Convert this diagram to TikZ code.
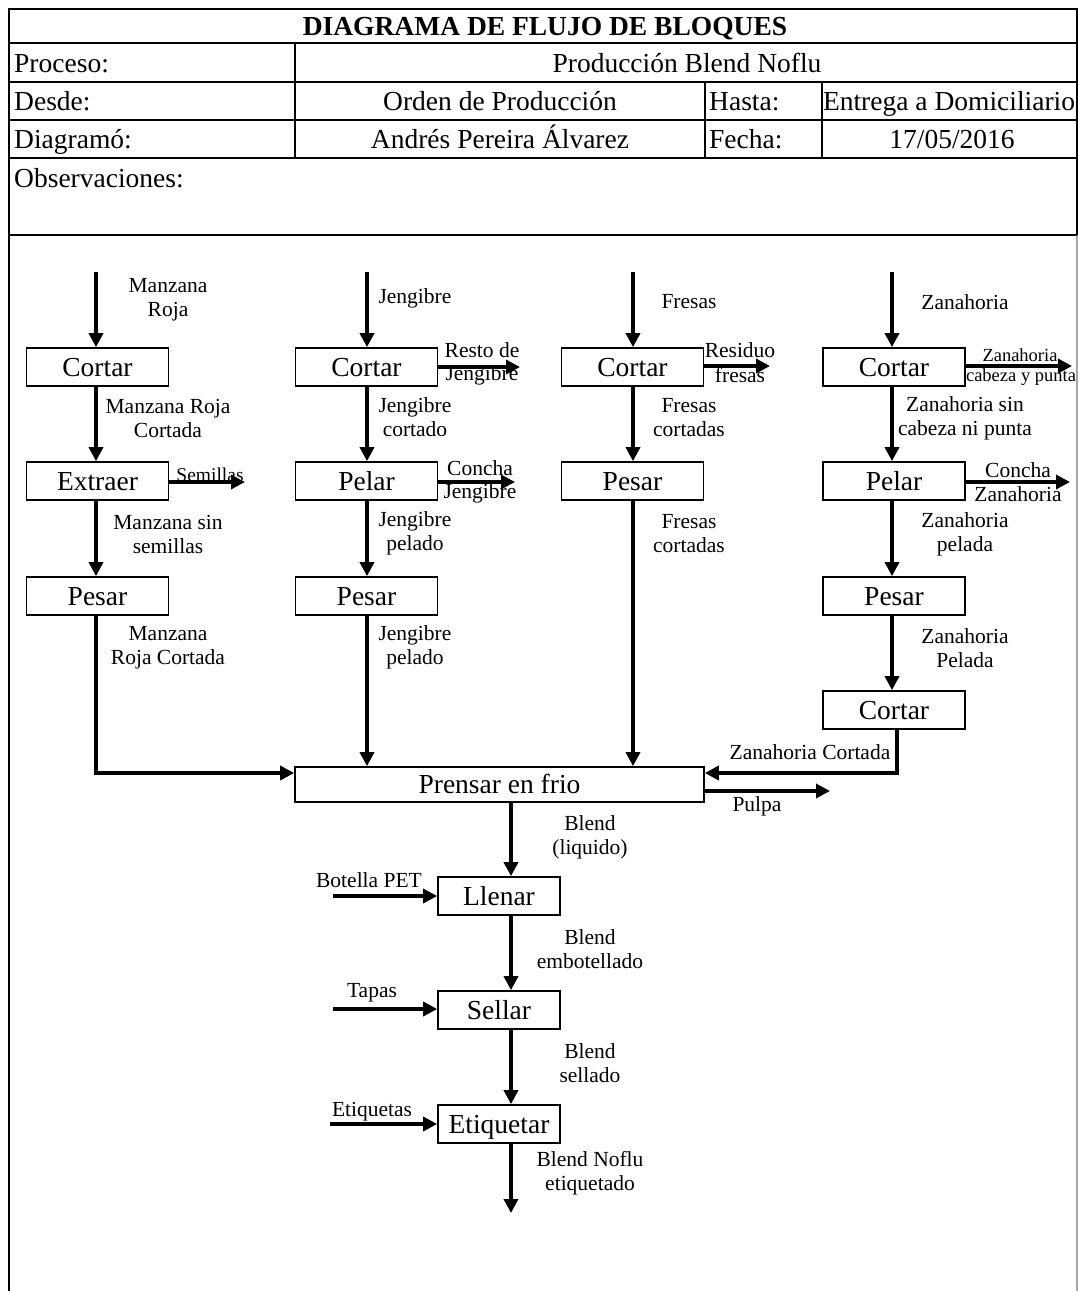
\documentclass[tikz,border=0pt]{standalone}
\usepackage{fontspec}
\setmainfont{Liberation Serif}
\usetikzlibrary{arrows.meta}
\tikzset{
  box/.style={draw, line width=1.7pt, minimum width=142pt, minimum height=38pt, inner sep=0pt, text height=24pt, text depth=6pt, font=\fontsize{27.5}{30}\selectfont},
  lbl/.style={align=center, inner sep=0pt, font=\fontsize{21.5}{24}\selectfont},
  slbl/.style={align=center, inner sep=0pt, font=\fontsize{18.5}{22}\selectfont},
  flow/.style={line width=3.4pt, -{Triangle[length=14pt,width=14pt]}},
  hdr/.style={inner sep=0pt, text height=24pt, text depth=6pt, font=\fontsize{27.5}{30}\selectfont},
  rule/.style={line width=1.7pt},
}
\begin{document}
\begin{tikzpicture}[x=1pt,y=-1pt]
\useasboundingbox (0,0) rectangle (1078,1291);
% frame and header table
\draw[rule] (9,1291) -- (9,9) -- (1077,9) -- (1077,235);
\draw[line width=1.2pt, black!35] (1077,235) -- (1077,1291);
\draw[rule] (9,43) -- (1077,43);
\draw[rule] (9,82) -- (1077,82);
\draw[rule] (9,120) -- (1077,120);
\draw[rule] (9,158) -- (1077,158);
\draw[rule] (9,235) -- (1077,235);
\draw[rule] (295,43) -- (295,158);
\draw[rule] (705,82) -- (705,158);
\draw[rule] (822,82) -- (822,158);
\node[hdr, font=\fontsize{27.5}{30}\selectfont\bfseries] (title) at (545,26) {DIAGRAMA DE FLUJO DE BLOQUES};
\node[hdr, anchor=west] (hproc) at (14,63) {Proceso:};
\node[hdr] (vproc) at (687,63) {Producción Blend Noflu};
\node[hdr, anchor=west] (hdesde) at (14,101) {Desde:};
\node[hdr] (vdesde) at (500,101) {Orden de Producción};
\node[hdr, anchor=west] (hhasta) at (709,101) {Hasta:};
\node[hdr] (vhasta) at (949,101) {Entrega a Domiciliario};
\node[hdr, anchor=west] (hdiag) at (14,139) {Diagramó:};
\node[hdr] (vdiag) at (500,139) {Andrés Pereira Álvarez};
\node[hdr, anchor=west] (hfecha) at (709,139) {Fecha:};
\node[hdr] (vfecha) at (952,139) {17/05/2016};
\node[hdr, anchor=west] (hobs) at (14,178) {Observaciones:};

% boxes
\node[box] (c1) at (97.5,367) {Cortar};
\node[box] (e1) at (97.5,481) {Extraer};
\node[box] (p1) at (97.5,596) {Pesar};
\node[box] (c2) at (366.5,367) {Cortar};
\node[box] (l2) at (366.5,481) {Pelar};
\node[box] (p2) at (366.5,596) {Pesar};
\node[box] (c3) at (632.5,367) {Cortar};
\node[box] (p3) at (632.5,481) {Pesar};
\node[box] (c4) at (894,367) {Cortar};
\node[box] (l4) at (894,481) {Pelar};
\node[box] (p4) at (894,596) {Pesar};
\node[box] (k4) at (894,710) {Cortar};
\node[box, minimum width=409pt, minimum height=35pt] (pren) at (499.5,784.5) {Prensar en frio};
\node[box, minimum width=122pt] (llen) at (499,896) {Llenar};
\node[box, minimum width=122pt] (sell) at (499,1010) {Sellar};
\node[box, minimum width=122pt] (etiq) at (499,1124) {Etiquetar};

% free ends
\coordinate (in1) at (96,272);
\coordinate (in2) at (367,272);
\coordinate (in3) at (633,272);
\coordinate (in4) at (892,272);
\coordinate (o1) at (245,482);
\coordinate (o2a) at (520,367);
\coordinate (o2b) at (515,482);
\coordinate (o3) at (770,366);
\coordinate (o4a) at (1072,366);
\coordinate (o4b) at (1070,482);
\coordinate (pulpaend) at (830,791);
\coordinate (botin) at (333,896);
\coordinate (tapin) at (333,1009);
\coordinate (etiin) at (330,1124);
\coordinate (fin) at (511,1213);

% input arrows
\draw[flow] (in1) -- ([xshift=-1.5pt]c1.north);
\draw[flow] (in2) -- ([xshift=0.5pt]c2.north);
\draw[flow] (in3) -- ([xshift=0.5pt]c3.north);
\draw[flow] (in4) -- ([xshift=-2pt]c4.north);
% vertical flows
\draw[flow] ([xshift=-1.5pt]c1.south) -- ([xshift=-1.5pt]e1.north);
\draw[flow] ([xshift=-1.5pt]e1.south) -- ([xshift=-1.5pt]p1.north);
\draw[flow] ([xshift=0.5pt]c2.south) -- ([xshift=0.5pt]l2.north);
\draw[flow] ([xshift=0.5pt]l2.south) -- ([xshift=0.5pt]p2.north);
\draw[flow] ([xshift=0.5pt]c3.south) -- ([xshift=0.5pt]p3.north);
\draw[flow] ([xshift=-2pt]c4.south) -- ([xshift=-2pt]l4.north);
\draw[flow] ([xshift=-2pt]l4.south) -- ([xshift=-2pt]p4.north);
\draw[flow] ([xshift=-2pt]p4.south) -- ([xshift=-2pt]k4.north);
% into press
\draw[flow] ([xshift=-1.5pt]p1.south) |- ([yshift=11.5pt]pren.west);
\draw[flow] ([xshift=0.5pt]p2.south) -- ([xshift=0.5pt]p2.south |- pren.north);
\draw[flow] ([xshift=0.5pt]p3.south) -- ([xshift=0.5pt]p3.south |- pren.north);
\draw[flow] ([xshift=3pt]k4.south) |- ([yshift=11.5pt]pren.east);
\draw[flow] ([yshift=-6.5pt]pren.east) -- (pulpaend);
% side outputs
\draw[flow] ([yshift=-1pt]e1.east) -- (o1);
\draw[flow] (c2.east) -- (o2a);
\draw[flow] ([yshift=-1pt]l2.east) -- (o2b);
\draw[flow] ([yshift=1pt]c3.east) -- (o3);
\draw[flow] ([yshift=1pt]c4.east) -- (o4a);
\draw[flow] ([yshift=-1pt]l4.east) -- (o4b);
% lower chain
\draw[flow] ([xshift=11.5pt]pren.south) -- ([xshift=12pt]llen.north);
\draw[flow] ([xshift=12pt]llen.south) -- ([xshift=12pt]sell.north);
\draw[flow] ([xshift=12pt]sell.south) -- ([xshift=12pt]etiq.north);
\draw[flow] ([xshift=12pt]etiq.south) -- (fin);
\draw[flow] (botin) -- (llen.west);
\draw[flow] (tapin) -- ([yshift=1pt]sell.west);
\draw[flow] (etiin) -- (etiq.west);

% labels
\node[lbl] (t1) at (168,300) {Manzana\\Roja};
\node[lbl] (t2) at (415,298) {Jengibre};
\node[lbl] (t3) at (689,302) {Fresas};
\node[lbl] (t4) at (965,302) {Zanahoria};
\node[lbl] (t5) at (168,418) {Manzana Roja\\Cortada};
\node[lbl] (t6) at (168,534) {Manzana sin\\semillas};
\node[lbl] (t7) at (168,648) {Manzana\\Roja Cortada};
\node[lbl] (t8) at (415,417) {Jengibre\\cortado};
\node[lbl] (t9) at (415,533) {Jengibre\\pelado};
\node[lbl] (t10) at (415,647) {Jengibre\\pelado};
\node[lbl] (t11) at (689,418) {Fresas\\cortadas};
\node[lbl] (t12) at (689,534) {Fresas\\cortadas};
\node[lbl] (t13) at (965,418) {Zanahoria sin\\cabeza ni punta};
\node[lbl] (t14) at (965,534) {Zanahoria\\pelada};
\node[lbl] (t15) at (965,648) {Zanahoria\\Pelada};
\node[lbl] (t16) at (810,752) {Zanahoria Cortada};
\node[lbl] (t17) at (757,806) {Pulpa};
\node[lbl] (t18) at (590,837) {Blend\\(liquido)};
\node[lbl] (t19) at (590,949) {Blend\\embotellado};
\node[lbl] (t20) at (590,1063) {Blend\\sellado};
\node[lbl] (t21) at (590,1173) {Blend Noflu\\etiquetado};
\node[lbl] (t22) at (369,880) {Botella PET};
\node[lbl] (t23) at (372,993) {Tapas};
\node[lbl] (t24) at (372,1112) {Etiquetas};
% side labels
\node[slbl, font=\fontsize{19.5}{22}\selectfont] (s1) at (210,475) {Semillas};
\node[lbl] (s2a) at (482,350) {Resto de};
\node[lbl] (s2b) at (482,375) {Jengibre};
\node[lbl] (s3a) at (480,468) {Concha};
\node[lbl] (s3b) at (480,493) {Jengibre};
\node[lbl] (s4a) at (740,350) {Residuo};
\node[lbl] (s4b) at (740,375) {fresas};
\node[slbl] (s5a) at (1020,355) {Zanahoria};
\node[slbl] (s5b) at (1021,377) {cabeza y punta};
\node[lbl] (s6a) at (1018,470) {Concha};
\node[lbl] (s6b) at (1018,494) {Zanahoria};
\end{tikzpicture}
\end{document}
